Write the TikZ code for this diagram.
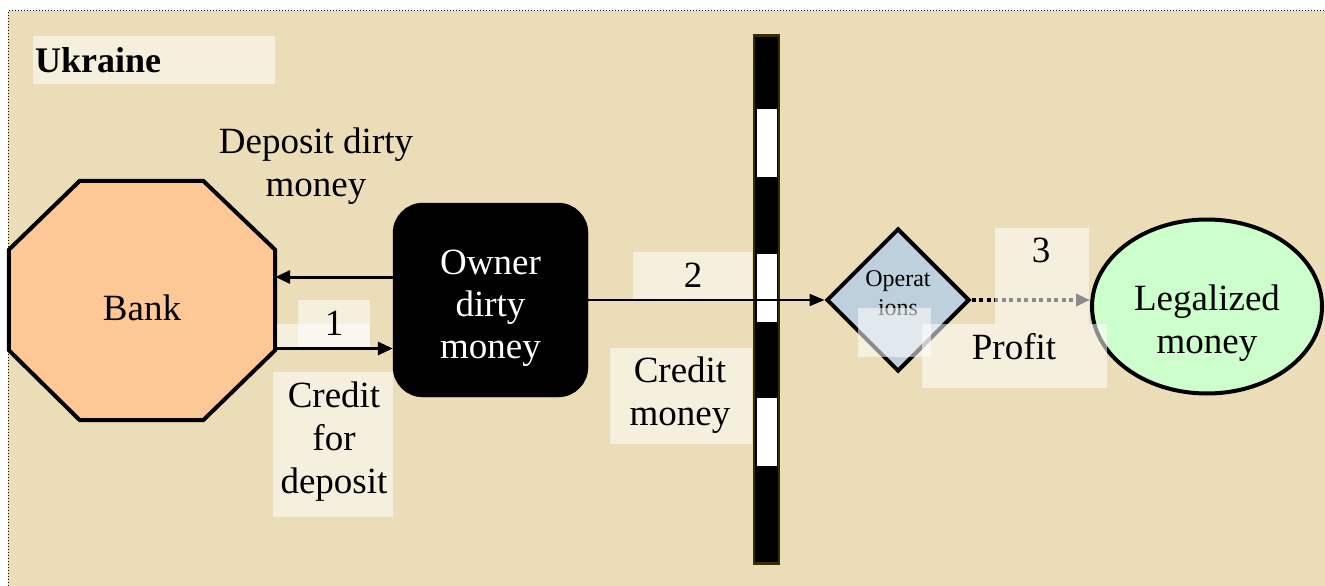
\documentclass[tikz,border=0pt]{standalone}
\usepackage{fontspec}
\setmainfont{Liberation Serif}
\usetikzlibrary{arrows.meta,shapes.geometric}

\definecolor{parchment}{RGB}{235,221,184}
\definecolor{bankpeach}{RGB}{253,200,150}
\definecolor{opsblue}{RGB}{190,208,220}
\definecolor{legalgreen}{RGB}{204,255,204}
\definecolor{wallrim}{RGB}{52,46,0}

\tikzset{
  txt/.style={inner sep=0pt, align=center, font=\fontsize{37}{43}\selectfont},
  whitetxt/.style={txt, text=white, font=\fontsize{37}{42}\selectfont},
  smalltxt/.style={inner sep=0pt, align=center, font=\fontsize{24}{29}\selectfont},
  bankframe/.style={rectangle, minimum width=266pt, minimum height=239pt, inner sep=0pt},
  bankshape/.style={draw=black, line width=4pt, fill=bankpeach, line join=miter},
  ownernode/.style={rectangle, rounded corners=30pt, minimum width=195pt, minimum height=194pt,
    inner sep=0pt, fill=black, draw=black},
  wallnode/.style={rectangle, minimum width=25pt, minimum height=528pt, inner sep=0pt,
    fill=black, draw=wallrim, line width=2.5pt},
  gapnode/.style={rectangle, minimum width=21pt, minimum height=69pt, inner sep=0pt,
    fill=white, draw=black, line width=1pt},
  opsnode/.style={diamond, aspect=1, minimum width=143pt, minimum height=143pt, inner sep=0pt,
    draw=black, line width=4pt, fill=opsblue},
  legalnode/.style={ellipse, minimum width=230pt, minimum height=174pt, inner sep=0pt,
    draw=black, line width=4pt, fill=legalgreen},
  bigarrow/.style={line width=3pt, -{Triangle[length=15pt,width=13pt]}},
  midarrow/.style={line width=2pt, -{Triangle[length=15pt,width=12pt]}},
  dotarrow/.style={line width=4pt, dash pattern=on 4pt off 3.5pt,
    -{Triangle[length=14pt,width=12pt]}},
  veil/.style={fill=white, fill opacity=0.55},
}

\begin{document}
\begin{tikzpicture}[x=1pt,y=-1pt]
\useasboundingbox (0,0) rectangle (1325,586);
\fill[white] (0,0) rectangle (1325,586);
\fill[parchment] (8,11) rectangle (1325,586);
\draw[dotted, line width=1pt] (8,586) -- (8,11) -- (1325,11);

% country frame label
\fill[veil] (33,36) rectangle (275,84);
\node[anchor=west, inner sep=0pt, font=\fontsize{36}{40}\selectfont\bfseries] (country) at (35,60) {Ukraine};

% bank: octagon drawn inside its frame node
\node[bankframe] (bank) at (142,300.5) {};
\draw[bankshape]
  ([xshift=71pt]bank.north west) -- ([xshift=-72pt]bank.north east)
  -- ([yshift=-69pt]bank.north east) -- ([yshift=70pt]bank.south east)
  -- ([xshift=-72pt]bank.south east) -- ([xshift=71pt]bank.south west)
  -- ([yshift=70pt]bank.south west) -- ([yshift=-69pt]bank.north west) -- cycle;
\node[txt] (banktext) at ([yshift=-7pt]bank.center) {Bank};

% owner of the dirty money
\node[ownernode] (owner) at (490.5,300) {};
\node[whitetxt] (ownertext) at ([yshift=-8pt]owner.center) {Owner\\dirty\\money};

\draw[bigarrow] ([yshift=23pt]owner.west) -- ([yshift=23pt]owner.west -| bank.east);
\draw[bigarrow] ([yshift=-48pt]bank.east) -- ([yshift=-48pt]bank.east -| owner.west);

% border wall
\node[wallnode] (wall) at (766.5,299.5) {};
\foreach \yy [count=\i] in {143,287.5,431.5}
  \node[gapnode] (gap\i) at (766.5,\yy) {};

% operations and result
\node[opsnode] (ops) at (898,300) {};
\node[smalltxt] (opstext) at ([yshift=7pt]ops.center) {Operat\\ions};
\node[legalnode] (legal) at (1207,306.5) {};
\node[txt] (legaltext) at ([yshift=-17pt]legal.center) {Legalized\\money};

\draw[midarrow] (owner.east) -- (ops.west);
\draw[dotarrow] (ops.east) -- (ops.east -| legal.west);

% label backdrops
\fill[veil] (298,300) rectangle (370,347);
\fill[veil] (277,324) rectangle (370,347);
\fill[veil] (273,372) rectangle (393,517);
\fill[veil] (633,252) rectangle (752,299);
\fill[veil] (610,348) rectangle (752,444);
\fill[veil] (858,308) rectangle (931,357);
\fill[veil] (995,228) rectangle (1089,324);
\fill[veil] (922,324) rectangle (1107,388);

% connector labels
\node[txt] (lbldeposit) at (316,166) {Deposit dirty\\money};
\node[txt] (lblone) at (334,323.5) {1};
\node[txt] (lblcredit) at (334,441.5) {Credit\\for\\deposit};
\node[txt] (lbltwo) at (693,275.5) {2};
\node[txt] (lblcreditmoney) at (680,395.5) {Credit\\money};
\node[txt] (lblthree) at (1041,250.5) {3};
\node[txt] (lblprofit) at (1014,347) {Profit};
\end{tikzpicture}
\end{document}
